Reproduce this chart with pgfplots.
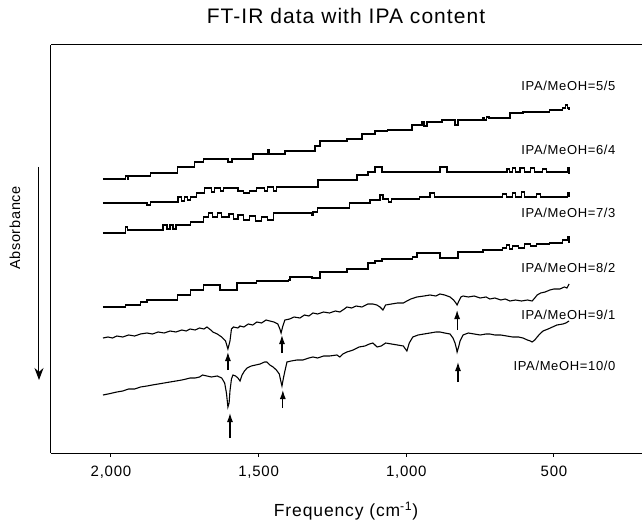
\documentclass[border=0pt]{standalone}
\usepackage{fontspec}
\setmainfont{Liberation Sans}[LetterSpace=5]
\usepackage{pgfplots}
\pgfplotsset{compat=1.18}
\usetikzlibrary{arrows.meta}

\begin{document}
\begin{tikzpicture}
\begin{axis}[
  at={(0pt,0pt)}, anchor=south west,
  scale only axis, width=591pt, height=408pt,
  x dir=reverse, xmin=202, xmax=2203, ymin=0, ymax=408,
  axis x line*=box, axis y line*=left,
  axis line style={line width=1pt},
  xtick={2000,1500,1000,500}, ytick=\empty,
  tick align=outside, xtick pos=left,
  major tick length=3.5pt, tick style={line width=1pt, black},
  xticklabel style={font=\fontsize{15}{17}\selectfont, yshift=-6pt},
  /pgf/number format/.cd, 1000 sep={,}, assume math mode=true,
]
% IPA/MeOH = 5/5
\addplot[black, line width=1.2pt, const plot mark left] coordinates {
(2027,274) (1952,277) (1945,274) (1940,277) (1865,280) (1776,286) (1716,291) (1688,294)
(1604,291) (1590,294) (1519,299) (1470,303) (1465,299) (1411,302) (1309,307) (1292,312)
(1201,314) (1150,319) (1106,322) (1065,323) (981,328) (947,331) (940,327) (930,331)
(879,333) (835,328) (825,333) (740,335) (735,333) (728,336) (720,335) (649,340) (605,341) (514,343)
(470,345) (460,348) (455,345) (449,344) (447,344)
};
% IPA/MeOH = 6/4
\addplot[black, line width=1.2pt, const plot mark left] coordinates {
(2027,250) (1878,248) (1865,251) (1773,256) (1760,252) (1750,256) (1740,253) (1732,256)
(1709,260) (1682,265) (1660,261) (1650,265) (1630,262) (1620,265) (1570,262) (1550,260)
(1530,262) (1506,265) (1480,262) (1470,266) (1450,262) (1440,266) (1299,273) (1167,278)
(1130,281) (1106,286) (1082,281) (886,286) (862,281) (659,284) (650,281) (640,285) (630,281)
(615,285) (600,281) (580,285) (565,281) (540,284) (525,281) (470,281) (455,285) (449,280) (447,280)
};
% IPA/MeOH = 7/3
\addplot[black, line width=1.2pt, const plot mark left] coordinates {
(2027,220) (1952,226) (1945,223) (1824,228) (1810,224) (1800,228) (1790,224) (1780,228)
(1732,231) (1688,236) (1670,240) (1655,236) (1640,240) (1625,236) (1600,239) (1585,234)
(1570,238) (1550,233) (1530,237) (1510,232) (1490,236) (1470,233) (1451,240) (1320,238)
(1316,241) (1302,245) (1191,250) (1123,253) (1089,258) (1079,254) (1060,251) (1050,254)
(954,256) (920,260) (905,256) (673,259) (660,256) (640,260) (630,256) (610,261) (600,256)
(560,259) (545,256) (470,256) (455,260) (449,257) (447,257)
};
% IPA/MeOH = 8/2
\addplot[black, line width=1.2pt, const plot mark left] coordinates {
(2027,146) (1950,148) (1900,151) (1878,153) (1776,158) (1732,163) (1688,168) (1631,163)
(1573,170) (1506,172) (1400,173) (1394,176) (1319,175) (1292,181) (1201,184) (1130,190)
(1106,192) (1082,194) (978,196) (964,200) (886,195) (825,201) (740,203) (673,205) (660,208)
(650,204) (640,207) (620,205) (600,209) (580,207) (560,209) (514,210) (470,213) (455,216)
(449,211) (447,211)
};
% IPA/MeOH = 9/1
\addplot[black, line width=1.1pt] coordinates {
(2027,115) (2010,116) (1995,115) (1980,117) (1960,116) (1940,118) (1920,117) (1900,119)
(1878,120) (1860,119) (1840,121) (1820,120) (1800,122) (1780,121) (1760,123) (1745,122)
(1732,124) (1715,123) (1700,125) (1685,124) (1675,126) (1662,123) (1655,121) (1640,119)
(1625,116) (1612,112) (1604,104) (1597,112) (1592,124) (1585,126) (1570,125) (1563,127)
(1550,126) (1535,129) (1520,128) (1506,131) (1490,130) (1475,133) (1462,132) (1448,131)
(1435,129) (1428,124) (1424,120) (1418,127) (1411,133) (1395,134) (1380,136) (1360,135)
(1345,138) (1330,137) (1316,140) (1300,139) (1280,141) (1260,140) (1240,142) (1225,141)
(1210,144) (1201,146) (1185,145) (1170,147) (1150,146) (1130,149) (1113,149) (1100,148)
(1089,146) (1079,143) (1070,148) (1050,149) (1030,150) (1010,150) (998,152) (985,154)
(964,156) (940,157) (920,158) (900,157) (886,159) (870,158) (852,156) (840,153) (832,150)
(828,148) (822,152) (815,156) (808,157) (790,156) (770,157) (750,155) (730,156) (717,154)
(700,155) (680,153) (665,154) (649,152) (630,153) (610,152) (590,153) (574,152) (565,155)
(557,158) (545,160) (530,161) (514,163) (500,164) (480,164) (465,166) (456,165) (449,169)
};
% IPA/MeOH = 10/0
\addplot[black, line width=1.1pt] coordinates {
(2027,58) (2010,59) (1995,60) (1980,61) (1960,62) (1940,64) (1920,64) (1900,66) (1878,67)
(1860,68) (1840,69) (1820,70) (1800,71) (1780,72) (1760,73) (1745,74) (1732,75) (1715,75)
(1700,76) (1690,78) (1675,77) (1660,76) (1640,77) (1625,75) (1615,70) (1609,60) (1604,46)
(1600,50) (1597,62) (1592,74) (1587,78) (1578,77) (1570,75) (1563,72) (1556,78) (1548,82)
(1539,85) (1525,87) (1510,88) (1495,89) (1480,91) (1472,91) (1462,88) (1451,86) (1440,83)
(1430,79) (1425,72) (1421,67) (1416,75) (1411,82) (1404,91) (1390,92) (1370,93) (1350,93)
(1330,95) (1316,96) (1300,95) (1280,97) (1260,97) (1235,98) (1225,96) (1215,99) (1201,101)
(1180,103) (1160,106) (1140,107) (1125,109) (1113,110) (1099,106) (1085,107) (1070,110)
(1050,109) (1030,108) (1010,107) (1003,104) (998,102) (990,110) (978,116) (960,118)
(940,119) (920,120) (900,121) (886,121) (870,120) (852,119) (842,115) (835,110) (830,104)
(828,101) (823,106) (818,112) (808,118) (790,120) (770,119) (750,118) (730,119) (717,119)
(700,118) (680,118) (660,117) (640,116) (620,116) (605,115) (590,113) (580,112) (574,111)
(565,113) (557,116) (548,119) (537,122) (520,124) (505,126) (490,128) (470,129) (460,130)
(449,132)
};
% peak arrows
\addplot[black, line width=1.2pt, -{Latex[length=9pt,width=6pt]},
  quiver={u=0, v=\thisrow{v}}] table {
x y v
1604 83 18
1421 100 18
1597 15 25
1418 45 18
828 123 20
825 71 20
};
\node[anchor=east, font=\fontsize{13}{15}\selectfont] at (axis cs:280,367) {IPA/MeOH=5/5};
\node[anchor=east, font=\fontsize{13}{15}\selectfont] at (axis cs:280,303) {IPA/MeOH=6/4};
\node[anchor=east, font=\fontsize{13}{15}\selectfont] at (axis cs:280,240) {IPA/MeOH=7/3};
\node[anchor=east, font=\fontsize{13}{15}\selectfont] at (axis cs:280,185) {IPA/MeOH=8/2};
\node[anchor=east, font=\fontsize{13}{15}\selectfont] at (axis cs:280,138) {IPA/MeOH=9/1};
\node[anchor=east, font=\fontsize{13}{15}\selectfont] at (axis cs:280,87) {IPA/MeOH=10/0};
\end{axis}
\node[font=\fontsize{21}{24}\selectfont] at (295pt,437pt) {FT-IR data with IPA content};
\node[font=\fontsize{17.5}{20}\selectfont] at (295pt,-58pt) {Frequency (cm\textsuperscript{-1})};
\node[font=\fontsize{14.5}{17}\selectfont, rotate=90] at (-36pt,225pt) {Absorbance};
\draw[line width=1pt, -{Stealth[length=12pt,width=9pt]}] (-12pt,286pt) -- (-12pt,73pt);
\pgfresetboundingbox
\path[use as bounding box] (-51pt,-72pt) rectangle (591pt,453pt);
\end{tikzpicture}
\end{document}
